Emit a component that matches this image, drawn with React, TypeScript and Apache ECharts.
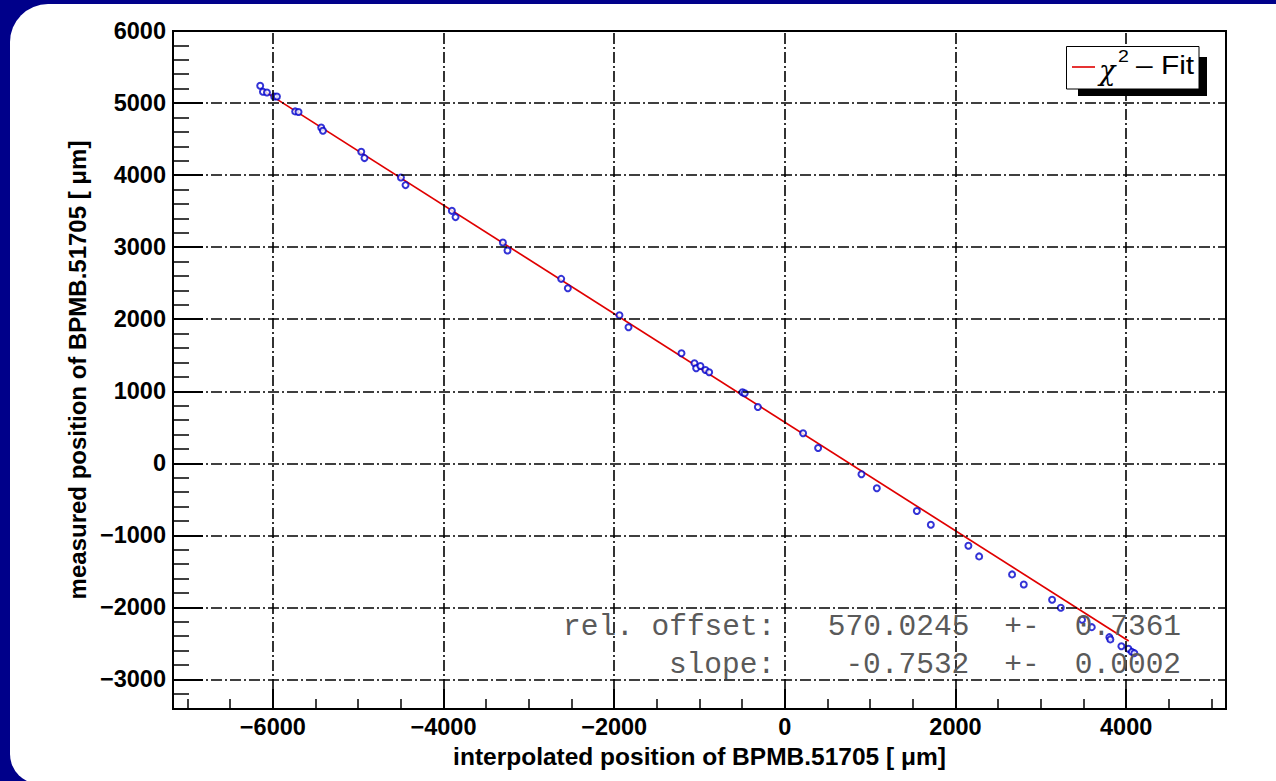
import { useEffect, useRef } from "react";
import * as echarts from "echarts";

// interpolated position [µm]
const interpolatedX = [
  -6148, -6116, -6069, -5984, -5952, -5738, -5699, -5433, -5413, -4964,
  -4926, -4499, -4445, -3902, -3859, -3304, -3250, -2621, -2543, -1938,
  -1832, -1211, -1059, -1039, -989, -930, -887, -497, -470, -316,
  214, 390, 898, 1078, 1547, 1711, 2151, 2277, 2663, 2800,
  3132, 3234, 3483, 3597, 3803, 3815, 3944, 4026, 4066, 4096,
];
// measured position [µm]
const measuredY = [
  5240, 5157, 5147, 5092, 5092, 4884, 4875, 4661, 4615, 4324,
  4236, 3967, 3861, 3504, 3417, 3064, 2953, 2560, 2430, 2055,
  1889, 1528, 1389, 1319, 1351, 1296, 1264, 985, 972, 782,
  417, 212, -153, -347, -663, -853, -1144, -1292, -1542, -1681,
  -1894, -2005, -2172, -2274, -2413, -2444, -2538, -2575, -2617, -2635,
];

const xRange = [-7170, 5170];
const yRange = [-3410, 6000];
const xMajorTicks = [-6000, -4000, -2000, 0, 2000, 4000];
const xMinorTicks = [
  -7000, -6500, -6000, -5500, -5000, -4500, -4000, -3500, -3000, -2500, -2000, -1500, -1000,
  -500, 0, 500, 1000, 1500, 2000, 2500, 3000, 3500, 4000, 4500, 5000,
];
const yMajorTicks = [-3000, -2000, -1000, 0, 1000, 2000, 3000, 4000, 5000, 6000];
const yMinorTicks = [
  -3400, -3200, -3000, -2800, -2600, -2400, -2200, -2000, -1800, -1600, -1400, -1200, -1000,
  -800, -600, -400, -200, 0, 200, 400, 600, 800, 1000, 1200, 1400, 1600, 1800, 2000, 2200,
  2400, 2600, 2800, 3000, 3200, 3400, 3600, 3800, 4000, 4200, 4400, 4600, 4800, 5000, 5200,
  5400, 5600, 5800, 6000,
];
const xGridLines = [-6000, -4000, -2000, 0, 2000, 4000];
const yGridLines = [-3000, -2000, -1000, 0, 1000, 2000, 3000, 4000, 5000];

const fitOffset = 570.0245;
const fitOffsetErr = 0.7361;
const fitSlope = -0.7532;
const fitSlopeErr = 0.0002;
const fitRange = [-6120, 4030];

const xTitle = "interpolated position of BPMB.51705 [ \u03bcm]";
const yTitle = "measured position of BPMB.51705 [ \u03bcm]";
const legendLabel = "Fit";

const SANS = "'Liberation Sans', Arial, Helvetica, sans-serif";
const MONO = "'Liberation Mono', 'Courier New', monospace";

const fmtTick = (v: number) => String(v).replace("-", "\u2212");

export default function App() {
  const ref = useRef<HTMLDivElement>(null);
  useEffect(() => {
    if (!ref.current) return;
    const chart = echarts.init(ref.current, undefined, { renderer: "svg" });
    const points = interpolatedX.map((x, i) => [x, measuredY[i]]);
    const fitLine = fitRange.map((x) => [x, fitOffset + fitSlope * x]);

    const baseAxisLabel = {
      color: "#000",
      fontFamily: SANS,
      fontWeight: "bold" as const,
      fontSize: 23.5,
    };

    // stats box positions (monospace grid)
    const sx = 563;
    const pitch = 17.65;
    const statsFont = { fontFamily: MONO, fontSize: 29.5, fill: "#5a5a5a" };
    const statsText = (txt: string, col: number, baseline: number) => ({
      type: "text",
      z: 50,
      x: sx + col * pitch,
      y: baseline,
      style: { text: txt, ...statsFont, textAlign: "left", textVerticalAlign: "bottom" },
      silent: true,
    });

    const legendFont = { fontFamily: SANS, fill: "#000", textVerticalAlign: "bottom" };

    chart.setOption({
      animation: false,
      backgroundColor: "#00008a",
      grid: {
        left: 173,
        right: 50,
        top: 31,
        bottom: 72,
        show: true,
        borderColor: "#000",
        borderWidth: 2,
        backgroundColor: "transparent",
        containLabel: false,
      },
      xAxis: [
        {
          type: "value",
          position: "bottom",
          min: xRange[0],
          max: xRange[1],
          axisLine: { show: true, onZero: false, lineStyle: { color: "#000", width: 2 } },
          axisTick: {
            show: true,
            inside: true,
            length: 10,
            customValues: xMinorTicks,
            lineStyle: { color: "#000", width: 1.5 },
          },
          axisLabel: { ...baseAxisLabel, margin: 6, customValues: xMajorTicks, formatter: fmtTick },
          splitLine: { show: false },
          name: xTitle,
          nameLocation: "middle",
          nameGap: 27,
          nameTextStyle: { color: "#000", fontFamily: SANS, fontWeight: "bold", fontSize: 24.5, verticalAlign: "top" },
        },
        {
          type: "value",
          position: "bottom",
          min: xRange[0],
          max: xRange[1],
          axisLine: { show: false, onZero: false },
          axisTick: {
            show: true,
            inside: true,
            length: 20,
            customValues: xMajorTicks,
            lineStyle: { color: "#000", width: 2 },
          },
          axisLabel: { show: false },
          splitLine: { show: false },
        },
      ],
      yAxis: [
        {
          type: "value",
          position: "left",
          min: yRange[0],
          max: yRange[1],
          axisLine: { show: true, onZero: false, lineStyle: { color: "#000", width: 2 } },
          axisTick: {
            show: true,
            inside: true,
            length: 16,
            customValues: yMinorTicks,
            lineStyle: { color: "#000", width: 1.5 },
          },
          axisLabel: { ...baseAxisLabel, margin: 7, customValues: yMajorTicks, formatter: fmtTick },
          splitLine: { show: false },
          name: yTitle,
          nameLocation: "middle",
          nameRotate: 90,
          nameGap: 76,
          nameTextStyle: { color: "#000", fontFamily: SANS, fontWeight: "bold", fontSize: 24 },
        },
        {
          type: "value",
          position: "left",
          min: yRange[0],
          max: yRange[1],
          axisLine: { show: false, onZero: false },
          axisTick: {
            show: true,
            inside: true,
            length: 30,
            customValues: yMajorTicks,
            lineStyle: { color: "#000", width: 2 },
          },
          axisLabel: { show: false },
          splitLine: { show: false },
        },
      ],
      series: [
        {
          type: "line",
          name: "grid",
          data: [],
          z: 1,
          silent: true,
          markLine: {
            silent: true,
            symbol: ["none", "none"],
            label: { show: false },
            lineStyle: { color: "#000", width: 1.6, type: [11, 3, 2, 3] },
            emphasis: { disabled: true },
            data: [
              ...xGridLines.map((v) => ({ xAxis: v })),
              ...yGridLines.map((v) => ({ yAxis: v })),
            ],
          },
        },
        {
          type: "line",
          name: "fit",
          data: fitLine,
          z: 3,
          symbol: "none",
          lineStyle: { color: "#e00000", width: 1.7 },
          silent: true,
        },
        {
          type: "scatter",
          name: "data",
          data: points,
          z: 4,
          symbol: "emptyCircle",
          symbolSize: 6,
          itemStyle: { color: "#0000cc", borderColor: "#0000cc", borderWidth: 1.8 },
          silent: true,
        },
      ],
      graphic: [
        {
          type: "rect",
          z: -100,
          shape: { x: 10, y: 4, width: 1300, height: 780, r: [38, 0, 0, 30] },
          style: { fill: "#ffffff" },
          silent: true,
        },
        // legend box with shadow
        {
          type: "rect",
          z: 60,
          shape: { x: 1078, y: 57, width: 129, height: 39 },
          style: { fill: "#000" },
          silent: true,
        },
        {
          type: "rect",
          z: 61,
          shape: { x: 1066.5, y: 46.5, width: 132.5, height: 42.5 },
          style: { fill: "#fff", stroke: "#000", lineWidth: 1 },
          silent: true,
        },
        {
          type: "line",
          z: 62,
          shape: { x1: 1072, y1: 67, x2: 1095, y2: 67 },
          style: { stroke: "#e00000", lineWidth: 1.6 },
          silent: true,
        },
        {
          type: "text",
          z: 62,
          x: 1099,
          y: 84,
          style: { text: "\u03c7", fontSize: 27, fontFamily: "'DejaVu Serif', serif", fontStyle: "italic", fill: "#000", textVerticalAlign: "bottom" },
          silent: true,
        },
        {
          type: "text",
          z: 62,
          x: 1118,
          y: 64,
          scaleX: 1.15,
          style: { text: "2", fontSize: 17, ...legendFont },
          silent: true,
        },
        {
          type: "text",
          z: 62,
          x: 1136,
          y: 78,
          scaleX: 1.15,
          style: { text: "\u2013 " + legendLabel, fontSize: 26, ...legendFont },
          silent: true,
        },
        // stats
        statsText("rel. offset:", 0, 642),
        statsText(fitOffset.toFixed(4), 15, 642),
        statsText("+-", 25, 642),
        statsText(fitOffsetErr.toFixed(4), 29, 642),
        statsText("slope:", 6, 680),
        statsText(fitSlope.toFixed(4), 16, 680),
        statsText("+-", 25, 680),
        statsText(fitSlopeErr.toFixed(4), 29, 680),
      ],
    });
    return () => chart.dispose();
  }, []);
  return (
    <div
      ref={ref}
      style={{ position: "fixed", left: 0, top: 0, width: 1276, height: 781 }}
    />
  );
}
